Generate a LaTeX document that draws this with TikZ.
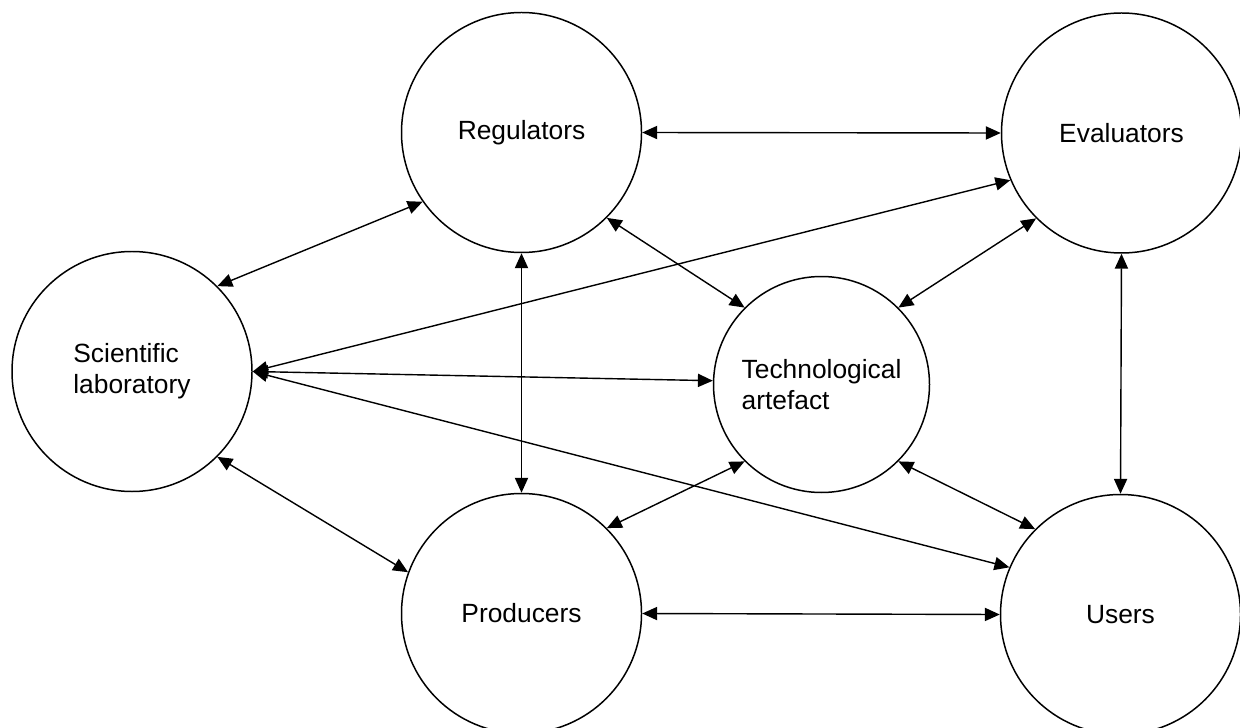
\documentclass[tikz,border=0pt]{standalone}
\usepackage{fontspec}
\setmainfont{Liberation Sans}
\usepackage{tikz}
\usetikzlibrary{calc,shapes,arrows.meta}

\tikzset{
    actor/.style={draw, circle, line width=0.85pt, minimum size=4.8cm, inner sep=0pt,
        font=\fontsize{15}{17.5}\selectfont, align=left},
    link/.style={{Triangle[length=8.5pt,width=7.5pt]}-{Triangle[length=8.5pt,width=7.5pt]}, line width=0.8pt}
}

\begin{document}
\begin{tikzpicture}
        \useasboundingbox (0,0) rectangle (24.8,14.54);
        \node[actor] (reg) at (10.43,11.89) {Regulators};
        \node[actor] (eval) at (22.43,11.88) {Evaluators};
        \node[actor] (lab) at (2.64,7.11) {Scientific\\laboratory};
        \node[actor, minimum size=4.32cm] (art) at (16.43,6.85) {Technological\\artefact};
        \node[actor] (prod) at (10.43,2.27) {Producers};
        \node[actor] (users) at (22.41,2.25) {Users};
        % top and bottom rows
        \draw[link] (reg.east) -- (eval.west);
        \draw[link] (prod.east) -- (users.west);
        \draw[link] (reg.south) -- (prod.north);
        \draw[link] (eval.south) -- (users.north);
        % laboratory
        \draw[link] (lab.45) -- (reg.215);
        \draw[link] (lab.-45) -- (prod.160);
        \draw[link] (lab.east) -- (eval.203);
        \draw[link] (lab.east) -- (art.178);
        \draw[link] (lab.east) -- (users.157);
        % artefact
        \draw[link] (reg.-45) -- (art.135);
        \draw[link] (eval.225) -- (art.45);
        \draw[link] (art.225) -- (prod.45);
        \draw[link] (art.-45) -- (users.135);
    \end{tikzpicture}
\end{document}
